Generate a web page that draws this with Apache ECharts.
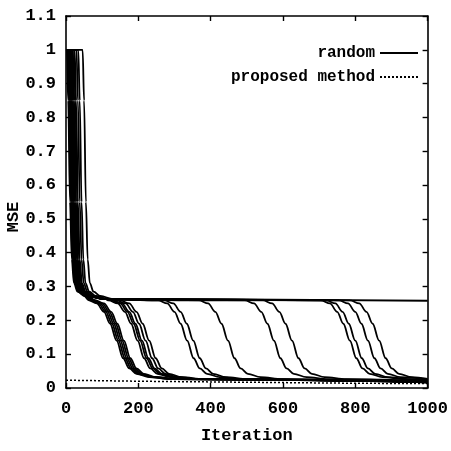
<!DOCTYPE html>
<html>
<head>
<meta charset="utf-8">
<script src="https://cdn.jsdelivr.net/npm/echarts@6/dist/echarts.min.js"></script>
<style>html,body{margin:0;padding:0;background:#fff}#c{width:451px;height:451px}</style>
</head>
<body>
<div id="c"></div>
<script>
// ---- data ----
var xTicks = [0, 200, 400, 600, 800, 1000];
var yTicks = [0, 0.1, 0.2, 0.3, 0.4, 0.5, 0.6, 0.7, 0.8, 0.9, 1, 1.1];
var legendNames = ['random', 'proposed method'];

var run1  = [[0,1],[2,1],[6,0.85],[11,0.55],[16,0.38],[22,0.31],[32,0.285],[51,0.272],[62,0.26],[85,0.25],[105,0.225],[122,0.19],[140,0.14],[158,0.088],[175,0.058],[195,0.042],[230,0.032],[290,0.026],[1000,0.018]];
var run2  = [[0,1],[6,1],[10,0.85],[15,0.55],[20,0.38],[26,0.31],[36,0.285],[55,0.272],[66,0.26],[90,0.25],[110,0.225],[127,0.19],[145,0.14],[163,0.088],[180,0.058],[200,0.042],[235,0.032],[295,0.026],[1000,0.017]];
var run3  = [[0,1],[9,1],[13,0.85],[18,0.55],[23,0.38],[29,0.31],[39,0.285],[58,0.272],[70,0.26],[95,0.25],[115,0.225],[132,0.19],[150,0.14],[168,0.088],[185,0.058],[205,0.042],[240,0.032],[300,0.026],[1000,0.018]];
var run4  = [[0,1],[4,1],[8,0.85],[13,0.55],[18,0.38],[24,0.31],[34,0.285],[53,0.272],[75,0.26],[100,0.25],[120,0.225],[137,0.19],[155,0.14],[173,0.088],[190,0.058],[210,0.042],[245,0.032],[305,0.026],[1000,0.017]];
var run5  = [[0,1],[12,1],[16,0.85],[21,0.55],[26,0.38],[32,0.31],[42,0.285],[61,0.272],[80,0.26],[105,0.25],[125,0.225],[142,0.19],[160,0.14],[178,0.088],[195,0.058],[215,0.042],[250,0.032],[310,0.026],[1000,0.018]];
var run6  = [[0,1],[8,1],[12,0.85],[17,0.55],[22,0.38],[28,0.31],[38,0.285],[57,0.272],[110,0.263],[118,0.259],[143,0.25],[163,0.225],[180,0.19],[198,0.14],[216,0.088],[233,0.058],[253,0.042],[288,0.032],[348,0.026],[1000,0.017]];
var run7  = [[0,1],[14,1],[18,0.85],[23,0.55],[28,0.38],[34,0.31],[44,0.285],[63,0.272],[110,0.263],[130,0.259],[155,0.25],[175,0.225],[192,0.19],[210,0.14],[228,0.088],[245,0.058],[265,0.042],[300,0.032],[360,0.026],[1000,0.018]];
var run8  = [[0,1],[16,1],[20,0.85],[25,0.55],[30,0.38],[36,0.31],[46,0.285],[65,0.272],[110,0.263],[140,0.259],[165,0.25],[185,0.225],[202,0.19],[220,0.14],[238,0.088],[255,0.058],[275,0.042],[310,0.032],[370,0.026],[1000,0.017]];
var run9  = [[0,1],[10,1],[14,0.85],[19,0.55],[24,0.38],[30,0.31],[40,0.285],[59,0.272],[110,0.263],[150,0.259],[175,0.25],[195,0.225],[212,0.19],[230,0.14],[248,0.088],[265,0.058],[285,0.042],[320,0.032],[380,0.026],[1000,0.018]];
var run10 = [[0,1],[19,1],[23,0.85],[28,0.55],[33,0.38],[39,0.31],[49,0.285],[68,0.272],[110,0.263],[255,0.259],[280,0.25],[300,0.225],[317,0.19],[335,0.14],[353,0.088],[370,0.058],[390,0.042],[425,0.032],[485,0.026],[1000,0.018]];
var run11 = [[0,1],[7,1],[11,0.85],[16,0.55],[21,0.38],[27,0.31],[37,0.285],[56,0.272],[110,0.263],[272,0.259],[297,0.25],[317,0.225],[334,0.19],[352,0.14],[370,0.088],[387,0.058],[407,0.042],[442,0.032],[502,0.026],[1000,0.017]];
var run12 = [[0,1],[22,1],[26,0.85],[31,0.55],[36,0.38],[42,0.31],[52,0.285],[71,0.272],[110,0.263],[368,0.259],[393,0.25],[413,0.225],[430,0.19],[448,0.14],[466,0.088],[483,0.058],[503,0.042],[538,0.032],[598,0.026],[1000,0.018]];
var run13 = [[0,1],[13,1],[17,0.85],[22,0.55],[27,0.38],[33,0.31],[43,0.285],[62,0.272],[110,0.263],[495,0.259],[520,0.25],[540,0.225],[557,0.19],[575,0.14],[593,0.088],[610,0.058],[630,0.042],[665,0.032],[725,0.026],[1000,0.019]];
var run14 = [[0,1],[18,1],[22,0.85],[27,0.55],[32,0.38],[38,0.31],[48,0.285],[67,0.272],[110,0.263],[545,0.259],[570,0.25],[590,0.225],[607,0.19],[625,0.14],[643,0.088],[660,0.058],[680,0.042],[715,0.032],[775,0.026],[1000,0.02]];
var run15 = [[0,1],[24,1],[28,0.85],[33,0.55],[38,0.38],[44,0.31],[54,0.285],[73,0.272],[110,0.263],[705,0.259],[730,0.25],[750,0.225],[767,0.19],[785,0.14],[803,0.088],[820,0.058],[840,0.042],[875,0.032],[935,0.026],[1000,0.022]];
var run16 = [[0,1],[5,1],[9,0.85],[14,0.55],[19,0.38],[25,0.31],[35,0.285],[54,0.272],[110,0.263],[720,0.259],[745,0.25],[765,0.225],[782,0.19],[800,0.14],[818,0.088],[835,0.058],[855,0.042],[890,0.032],[950,0.026],[1000,0.023]];
var run17 = [[0,1],[29,1],[33,0.85],[38,0.55],[43,0.38],[49,0.31],[59,0.285],[78,0.272],[110,0.263],[755,0.259],[780,0.25],[800,0.225],[817,0.19],[835,0.14],[853,0.088],[870,0.058],[890,0.042],[925,0.032],[1000,0.025]];
var run18 = [[0,1],[11,1],[15,0.85],[20,0.55],[25,0.38],[31,0.31],[41,0.285],[60,0.272],[110,0.263],[786,0.259],[811,0.25],[831,0.225],[848,0.19],[866,0.14],[884,0.088],[901,0.058],[921,0.042],[956,0.032],[1000,0.027]];
var run19 = [[0,1],[46,1],[50,0.85],[55,0.55],[60,0.38],[66,0.31],[76,0.285],[95,0.272],[130,0.263],[1000,0.258]];
var run20 = [[0,1],[34,1],[38,0.85],[43,0.55],[48,0.38],[54,0.31],[64,0.285],[83,0.272],[115,0.263],[125,0.259],[150,0.25],[170,0.225],[187,0.19],[205,0.14],[223,0.088],[240,0.058],[260,0.042],[295,0.032],[355,0.026],[1000,0.018]];

var proposed = [[0,0.023],[200,0.02],[400,0.018],[600,0.016],[800,0.014],[1000,0.013]];

var randomRuns = [run1,run2,run3,run4,run5,run6,run7,run8,run9,run10,run11,run12,run13,run14,run15,run16,run17,run18,run19,run20];

// ---- chart ----
var FONT = 'Liberation Mono';
var chart = echarts.init(document.getElementById('c'), null, {renderer: 'canvas'});

var series = randomRuns.map(function (d) {
  return {
    name: legendNames[0], type: 'line', data: d, showSymbol: false, symbol: 'none',
    smooth: 0.35, smoothMonotone: 'x',
    lineStyle: {color: '#000', width: 1.8}, itemStyle: {color: '#000'},
    xAxisIndex: 0, yAxisIndex: 0, z: 3
  };
});
series.push({
  name: legendNames[1], type: 'line', data: proposed, showSymbol: false, symbol: 'none',
  lineStyle: {color: '#000', width: 1.5, type: [2, 2]}, itemStyle: {color: '#000'},
  xAxisIndex: 0, yAxisIndex: 0, z: 3
});

var axisLineStyle = {show: true, onZero: false, lineStyle: {color: '#000', width: 1.6}};
var tickStyle = {show: true, inside: true, length: 5, lineStyle: {color: '#000', width: 1.4}};
var labelStyle = {color: '#000', fontFamily: FONT, fontSize: 17, fontWeight: 'bold'};

chart.setOption({
  animation: false,
  backgroundColor: '#fff',
  grid: {left: 66, right: 19, top: 16, bottom: 63, containLabel: false},
  legend: {
    data: legendNames, orient: 'vertical', right: 27, top: 40, align: 'right',
    itemWidth: 38, itemHeight: 14, itemGap: 8,
    itemStyle: {color: 'transparent', borderColor: 'transparent', borderWidth: 0},
    textStyle: {color: '#000', fontFamily: FONT, fontSize: 16, fontWeight: 'bold'}
  },
  xAxis: [{
    type: 'value', min: xTicks[0], max: xTicks[xTicks.length - 1], interval: 200,
    position: 'bottom',
    name: 'Iteration', nameLocation: 'middle', nameGap: 39,
    nameTextStyle: {color: '#000', fontFamily: FONT, fontSize: 17, fontWeight: 'bold'},
    axisLine: axisLineStyle, axisTick: tickStyle,
    axisLabel: Object.assign({margin: 12, formatter: function (v) { return String(v); }}, labelStyle),
    splitLine: {show: false}
  }, {
    type: 'value', min: xTicks[0], max: xTicks[xTicks.length - 1], interval: 200,
    position: 'top', axisLine: axisLineStyle, axisTick: tickStyle,
    axisLabel: {show: false}, splitLine: {show: false}
  }],
  yAxis: [{
    type: 'value', min: yTicks[0], max: yTicks[yTicks.length - 1], interval: 0.1,
    position: 'left',
    axisLine: axisLineStyle, axisTick: tickStyle,
    axisLabel: Object.assign({margin: 10}, labelStyle),
    splitLine: {show: false}
  }, {
    type: 'value', min: yTicks[0], max: yTicks[yTicks.length - 1], interval: 0.1,
    position: 'right', axisLine: axisLineStyle, axisTick: tickStyle,
    axisLabel: {show: false}, splitLine: {show: false}
  }],
  graphic: [{
    type: 'text', x: 14, y: 217, rotation: Math.PI / 2,
    style: {text: 'MSE', fill: '#000', font: 'bold 17px "Liberation Mono"', textAlign: 'center', textVerticalAlign: 'middle'}
  }],
  series: series
});
</script>
</body>
</html>
